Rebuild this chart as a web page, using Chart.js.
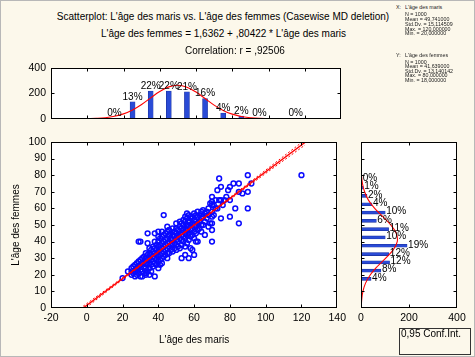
<!DOCTYPE html>
<html><head><meta charset="utf-8">
<script src="https://cdn.jsdelivr.net/npm/chart.js@4.4.0/dist/chart.umd.min.js"></script>
<style>
html,body{margin:0;padding:0;}
body{width:475px;height:357px;background:#fcf8eb;position:relative;overflow:hidden;font-family:"Liberation Sans",Arial,sans-serif;}
#frame{position:absolute;left:0;top:0;width:473px;height:355px;border:1px solid #b8b8b8;}
canvas{position:absolute;}
.t{position:absolute;white-space:nowrap;font-size:10px;line-height:12px;color:#000;}
.c{transform:translateX(-50%);}
.s{position:absolute;white-space:nowrap;font-size:10.6px;line-height:12px;transform:scale(0.5);transform-origin:0 0;color:#222;}
#ci{position:absolute;left:399px;top:328px;width:72px;height:27px;border:1px solid #333;box-sizing:border-box;}
</style></head>
<body>
<div id="frame"></div>
<canvas id="top" width="350" height="75" style="left:0;top:55px"></canvas>
<canvas id="main" width="350" height="227" style="left:0;top:130px"></canvas>
<canvas id="right" width="125" height="227" style="left:350px;top:130px"></canvas>

<div class="t c" style="left:223px;top:10.5px">Scatterplot: L'âge des maris vs. L'âge des femmes (Casewise MD deletion)</div>
<div class="t c" style="left:223.5px;top:27.5px">L'âge des femmes = 1,6362 + ,80422 * L'âge des maris</div>
<div class="t" style="left:185px;top:45px">Correlation: r = ,92506</div>

<div class="s" style="left:396px;top:3.5px">X:</div>
<div class="s" style="left:405px;top:3.5px">L'âge des maris</div>
<div class="s" style="left:405px;top:11px">N = 1000</div>
<div class="s" style="left:405px;top:16px">Mean = 49,741000</div>
<div class="s" style="left:405px;top:20.7px">Std.Dv. = 15,114509</div>
<div class="s" style="left:405px;top:25.5px">Max. = 120,000000</div>
<div class="s" style="left:405px;top:30.3px">Min. = 20,000000</div>
<div class="s" style="left:396px;top:52px">Y:</div>
<div class="s" style="left:405px;top:52px">L'âge des femmes</div>
<div class="s" style="left:405px;top:58.5px">N = 1000</div>
<div class="s" style="left:405px;top:63.3px">Mean = 41,639000</div>
<div class="s" style="left:405px;top:67.8px">Std.Dv. = 13,140142</div>
<div class="s" style="left:405px;top:72.3px">Max. = 80,000000</div>
<div class="s" style="left:405px;top:77px">Min. = 18,000000</div>

<div id="ci"></div>
<div class="t" style="left:401px;top:327.5px">0,95 Conf.Int.</div>

<script>
// ---------- DATA ----------
const scatterPoints = [
 [20,18],[23,22],[25,20],[25,22],[25,24],[26,21],[26,25],[27,19],[27,23],[27,26],[28,20],[28,22],[28,24],[28,27],
 [29,21],[29,25],[29,28],[29,40],[30,19],[30,23],[30,26],[30,29],[30,40],
 [31,19],[31,22],[31,27],[31,30],[32,21],[32,25],[32,28],[32,31],[33,20],[33,21],[33,24],[33,27],[33,30],[33,33],
 [34,22],[34,26],[34,29],[34,32],[34,39],[34,45],[35,20],[35,24],[35,27],[35,30],[35,33],[35,36],
 [36,22],[36,26],[36,29],[36,32],[36,35],[37,25],[37,28],[37,31],[37,34],[37,37],[38,19],[38,27],[38,30],[38,33],
 [38,36],[38,40],[38,45],[39,26],[39,29],[39,32],[39,35],[39,38],[40,24],[40,28],[40,31],[40,34],[40,37],[40,40],
 [40,43],[40,46],
 [41,26],[41,29],[41,32],[41,35],[41,38],[41,42],[42,27],[42,30],[42,33],[42,36],[42,39],[42,43],[42,46],[43,31],
 [43,34],[43,37],[43,40],[43,44],[43,56],[44,32],[44,35],[44,38],[44,41],[44,45],[45,30],[45,33],[45,36],[45,39],
 [45,42],[45,46],[45,49],
 [46,33],[46,37],[46,40],[46,44],[46,47],[47,35],[47,38],[47,42],[47,45],[48,34],[48,38],[48,41],[48,44],[48,48],
 [49,36],[49,39],[49,43],[49,46],[50,35],[50,38],[50,41],[50,45],[50,48],[50,51],
 [51,37],[51,40],[51,44],[51,47],[52,36],[52,42],[52,45],[52,49],[52,52],[53,30],[53,38],[53,41],[53,44],[53,48],
 [53,51],[54,40],[54,43],[54,47],[54,50],[54,53],[55,32],[55,37],[55,42],[55,45],[55,48],[55,52],[55,55],
 [56,39],[56,44],[56,47],[56,50],[56,54],[56,57],[57,30],[57,41],[57,45],[57,49],[57,52],[57,56],[58,36],[58,43],
 [58,47],[58,50],[58,54],[59,35],[59,44],[59,48],[59,51],[59,55],[60,32],[60,42],[60,46],[60,50],[60,53],[60,57],
 [61,40],[61,45],[61,49],[61,52],[61,56],[62,40],[62,47],[62,51],[62,55],[62,58],[63,48],[63,52],[63,56],[64,46],
 [64,50],[64,54],[64,58],[65,50],[65,55],[65,59],[66,44],[66,52],[66,57],
 [67,54],[67,58],[68,49],[68,56],[68,60],[69,51],[69,63],[70,40],[70,47],[70,51],[70,55],[70,58],[70,62],[70,64],
 [70,67],[71,56],[71,62],[72,60],[72,65],
 [73,60],[73,71],[74,65],[74,78],[75,54],[75,65],[75,73],[76,62],[77,65],[78,67],[79,71],[80,55],[80,65],[80,73],
 [82,75],[83,60],[85,51],[85,70],[85,75],[87,69],[90,60],[90,70],[90,80],[92,75],[120,80]
];
const regLineX = [-2.03, 122.3];
const regLineY = [0, 100];
const bandX = [-2, 20, 50, 80, 122];
const bandUpper = [1.1, 18.3, 42.2, 66.6, 101.3];
const bandLower = [-1.1, 17.1, 41.5, 65.4, 98.2];

const topBinCenters = [15, 25, 35, 45, 55, 65, 75, 85, 95, 115];
const topCounts = [0, 133, 218, 218, 212, 158, 45, 20, 0, 0];
const topPct = ['0%','13%','22%','22%','21%','16%','4%','2%','0%','0%'];
const topCurveX = [0,5,10,15,20,25,30,35,40,45,50,55,60,65,70,75,80,85,90,95,100];
const topCurveY = [1,3,8,19,38,69,112,164,214,251,264,248,210,159,107,65,36,17,8,3,1];

const rightBinCenters = [17.5,22.5,27.5,32.5,37.5,42.5,47.5,52.5,57.5,62.5,67.5,72.5,77.5];
const rightCounts = [42,83,119,116,192,101,115,64,101,46,25,9,3];
const rightPct = ['4%','8%','12%','12%','19%','10%','11%','6%','10%','4%','2%','1%','0%'];
const rightCurveY = [0,5,10,15,20,25,30,35,40,45,50,55,60,65,70,75,80,85,90];
const rightCurveX = [1,3,8,19,39,68,103,134,151,147,124,91,57,31,15,6,2,1,0];

const xTickLabels = { min: -20, max: 140, step: 20 };
const yTickLabels = { min: 0, max: 100, step: 10 };

// ---------- RENDER ----------
const FAMILY = '"Liberation Sans", Arial, sans-serif';
const tickFont = { family: FAMILY, size: 10.5 };
const titleFont = { family: FAMILY, size: 10 };
const BLUE = '#0a0aff';
const BAR = '#2a4bd6';
const RED = '#ff0000';

const framePlugin = {
  id: 'frame',
  beforeDatasetsDraw(chart) {
    const { ctx, chartArea: a } = chart;
    ctx.save();
    ctx.fillStyle = '#ffffff';
    ctx.fillRect(a.left, a.top, a.right - a.left, a.bottom - a.top);
    ctx.restore();
  },
  afterDatasetsDraw(chart, args, opts) {
    const { ctx, chartArea: a, scales } = chart;
    const L = Math.round(a.left) + 0.5, R = Math.round(a.right) - 0.5;
    const T = Math.round(a.top) + 0.5, B = Math.round(a.bottom) - 0.5;
    ctx.save();
    ctx.strokeStyle = '#000';
    ctx.lineWidth = 1;
    ctx.beginPath();
    const len = 3;
    scales.x.ticks.forEach(t => {
      const px = Math.round(scales.x.getPixelForValue(t.value)) + 0.5;
      if (px <= L + 1 || px >= R - 1) return;
      ctx.moveTo(px, B); ctx.lineTo(px, B - len);
      ctx.moveTo(px, T); ctx.lineTo(px, T + len);
    });
    scales.y.ticks.forEach(t => {
      const py = Math.round(scales.y.getPixelForValue(t.value)) + 0.5;
      if (py <= T + 1 || py >= B - 1) return;
      ctx.moveTo(L, py); ctx.lineTo(L + len, py);
      ctx.moveTo(R, py); ctx.lineTo(R - len, py);
    });
    ctx.stroke();
    ctx.strokeRect(L, T, R - L, B - T);
    if (opts.labels) {
      const lab = opts.labels;
      ctx.fillStyle = '#000';
      ctx.font = '10px ' + FAMILY;
      if (lab.horizontal) {
        ctx.textAlign = 'left'; ctx.textBaseline = 'middle';
        lab.pos.forEach((v, i) => {
          const py = scales.y.getPixelForValue(v);
          const px = scales.x.getPixelForValue(lab.counts[i]);
          ctx.fillText(lab.text[i], px + 1, py - 1);
        });
      } else {
        ctx.textAlign = 'center'; ctx.textBaseline = 'bottom';
        lab.pos.forEach((v, i) => {
          const px = scales.x.getPixelForValue(v);
          const py = scales.y.getPixelForValue(lab.counts[i]);
          ctx.fillText(lab.text[i], px, py);
        });
      }
    }
    ctx.restore();
  }
};

const common = { responsive: false, animation: false, events: [] };
const noGrid = { display: false, drawTicks: false };

// Main scatter
new Chart(document.getElementById('main'), {
  type: 'scatter',
  data: { datasets: [
    { type: 'scatter', data: scatterPoints.map(p => ({ x: p[0], y: p[1] })),
      pointStyle: 'circle', pointRadius: 2.4, borderColor: BLUE, backgroundColor: 'rgba(0,0,0,0)',
      borderWidth: 1.5, order: 3 },
    { type: 'line', data: bandX.map((x, i) => ({ x, y: bandUpper[i] })), borderColor: RED, borderWidth: 1,
      borderDash: [2, 2], pointRadius: 0, cubicInterpolationMode: 'monotone', order: 2 },
    { type: 'line', data: bandX.map((x, i) => ({ x, y: bandLower[i] })), borderColor: RED, borderWidth: 1,
      borderDash: [2, 2], pointRadius: 0, cubicInterpolationMode: 'monotone', order: 2 },
    { type: 'line', data: regLineX.map((x, i) => ({ x, y: regLineY[i] })), borderColor: RED, borderWidth: 1.4,
      pointRadius: 0, order: 1 }
  ]},
  options: Object.assign({}, common, {
    layout: { padding: { left: 0, right: 9, top: 12, bottom: 0 } },
    scales: {
      x: { type: 'linear', min: xTickLabels.min, max: xTickLabels.max, offset: false,
        ticks: { stepSize: xTickLabels.step, font: tickFont, color: '#000', padding: 4, maxRotation: 0 },
        grid: noGrid, border: { display: false },
        title: { display: true, text: "L'âge des maris", font: titleFont, color: '#000', padding: { top: 0, bottom: 11 } },
        afterFit(s) { s.height = 49; } },
      y: { type: 'linear', min: yTickLabels.min, max: yTickLabels.max,
        ticks: { stepSize: yTickLabels.step, font: tickFont, color: '#000', padding: 5 },
        grid: noGrid, border: { display: false },
        title: { display: true, text: "L'âge des femmes", font: titleFont, color: '#000', padding: { top: 10.5, bottom: 0 } },
        afterFit(s) { s.width = 51; } }
    },
    plugins: { legend: { display: false }, tooltip: { enabled: false }, frame: {} }
  }),
  plugins: [framePlugin]
});

// Top histogram
new Chart(document.getElementById('top'), {
  type: 'bar',
  data: { datasets: [
    { type: 'bar', data: topBinCenters.map((x, i) => ({ x, y: topCounts[i] })), backgroundColor: BAR,
      borderColor: '#1a2f9a', borderWidth: 0.6, barThickness: 5, order: 2 },
    { type: 'line', data: topCurveX.map((x, i) => ({ x, y: topCurveY[i] })), borderColor: RED, borderWidth: 1.1,
      pointRadius: 0, tension: 0.4, order: 1 }
  ]},
  options: Object.assign({}, common, {
    layout: { padding: { left: 0, right: 9, top: 13, bottom: 8 } },
    scales: {
      x: { type: 'linear', min: xTickLabels.min, max: xTickLabels.max, offset: false,
        ticks: { stepSize: xTickLabels.step, display: false }, grid: Object.assign({ offset: false }, noGrid),
        border: { display: false }, afterFit(s) { s.height = 0; } },
      y: { type: 'linear', min: 0, max: 400,
        ticks: { stepSize: 200, font: tickFont, color: '#000', padding: 5 },
        grid: noGrid, border: { display: false }, afterFit(s) { s.width = 51; } }
    },
    plugins: { legend: { display: false }, tooltip: { enabled: false },
      frame: { labels: { pos: topBinCenters, counts: topCounts, text: topPct, horizontal: false } } }
  }),
  plugins: [framePlugin]
});

// Right histogram
new Chart(document.getElementById('right'), {
  type: 'bar',
  data: { datasets: [
    { type: 'bar', indexAxis: 'y', data: rightBinCenters.map((y, i) => ({ x: rightCounts[i], y })),
      backgroundColor: BAR, borderColor: '#1a2f9a', borderWidth: 0.6, barThickness: 3, order: 2 },
    { type: 'line', indexAxis: 'y', data: rightCurveY.map((y, i) => ({ x: rightCurveX[i], y })),
      borderColor: RED, borderWidth: 1.1, pointRadius: 0, tension: 0.4, order: 1 }
  ]},
  options: Object.assign({}, common, {
    indexAxis: 'y',
    layout: { padding: { left: 11, right: 18, top: 12, bottom: 0 } },
    scales: {
      x: { type: 'linear', min: 0, max: 400, offset: false,
        ticks: { stepSize: 200, font: tickFont, color: '#000', padding: 4, maxRotation: 0 },
        grid: noGrid, border: { display: false }, afterFit(s) { s.height = 49; } },
      y: { type: 'linear', min: yTickLabels.min, max: yTickLabels.max, offset: false,
        ticks: { stepSize: yTickLabels.step, display: false }, grid: Object.assign({ offset: false }, noGrid),
        border: { display: false }, afterFit(s) { s.width = 0; } }
    },
    plugins: { legend: { display: false }, tooltip: { enabled: false },
      frame: { labels: { pos: rightBinCenters, counts: rightCounts, text: rightPct, horizontal: true } } }
  }),
  plugins: [framePlugin]
});
</script>
</body></html>
